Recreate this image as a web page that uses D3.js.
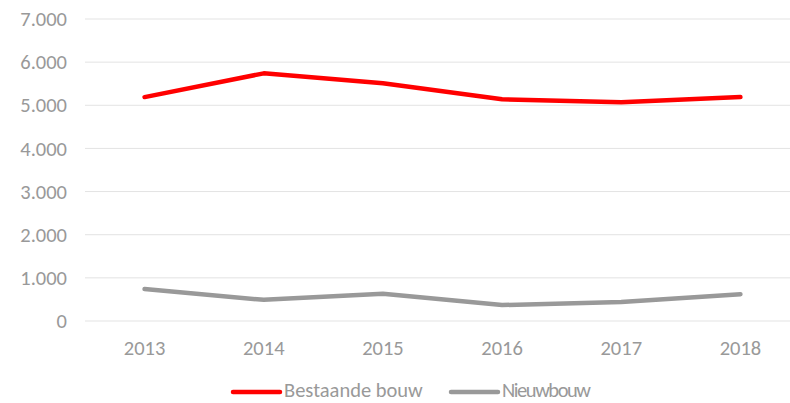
<!DOCTYPE html>
<html>
<head>
<meta charset="utf-8">
<script src="https://cdn.jsdelivr.net/npm/d3@7"></script>
<style>
  body { margin: 0; background: #fff; }
  svg { display: block; font-family: Carlito, Calibri, "Liberation Sans", sans-serif; }
</style>
</head>
<body>
<div id="chart"></div>
<script>
const years = ['2013', '2014', '2015', '2016', '2017', '2018']
const bestaande = [5190, 5740, 5510, 5140, 5070, 5190]
const nieuwbouw = [740, 490, 630, 370, 440, 620]
const yTicks = [0, 1000, 2000, 3000, 4000, 5000, 6000, 7000]

const series = [
  {name: 'Bestaande bouw', values: bestaande, color: '#ff0000'},
  {name: 'Nieuwbouw', values: nieuwbouw, color: '#999999'}
]

const width = 790
const height = 403
const margin = {top: 19, right: -10, bottom: 82, left: 85}
const fontSize = 20.5

const svg = d3.select('#chart')
  .append('svg')
  .attr('width', width)
  .attr('height', height)

const x = d3.scaleBand()
  .domain(years)
  .range([margin.left, width - margin.right])

const y = d3.scaleLinear()
  .domain([0, 7000])
  .range([height - margin.bottom, margin.top])

const fmt = d3.formatLocale({decimal: ',', thousands: '.', grouping: [3], currency: ['€', '']}).format(',')

// gridlines
svg.append('g')
  .selectAll('line')
  .data(yTicks)
  .join('line')
  .attr('x1', margin.left)
  .attr('x2', width - margin.right)
  .attr('y1', d => y(d))
  .attr('y2', d => y(d))
  .attr('stroke', '#e3e3e3')
  .attr('stroke-width', 1)

// y labels
svg.append('g')
  .selectAll('text')
  .data(yTicks)
  .join('text')
  .attr('x', 67)
  .attr('y', d => y(d))
  .attr('dy', '0.35em')
  .attr('text-anchor', 'end')
  .attr('fill', '#999')
  .attr('font-size', fontSize)
  .text(d => fmt(d))

// x labels
svg.append('g')
  .selectAll('text')
  .data(years)
  .join('text')
  .attr('x', d => x(d) + x.bandwidth() / 2)
  .attr('y', 355)
  .attr('text-anchor', 'middle')
  .attr('fill', '#999')
  .attr('font-size', fontSize)
  .text(d => d)

const line = d3.line()
  .x((d, i) => x(years[i]) + x.bandwidth() / 2)
  .y(d => y(d))

svg.append('g')
  .selectAll('path')
  .data(series)
  .join('path')
  .attr('d', d => line(d.values))
  .attr('fill', 'none')
  .attr('stroke', d => d.color)
  .attr('stroke-width', 4.5)
  .attr('stroke-linecap', 'round')
  .attr('stroke-linejoin', 'round')

// legend
const legendX = [233, 451]
const legend = svg.append('g')
  .selectAll('g')
  .data(series)
  .join('g')
  .attr('transform', (d, i) => `translate(${legendX[i]},392)`)

legend.append('line')
  .attr('x1', 0)
  .attr('x2', 47)
  .attr('stroke', d => d.color)
  .attr('stroke-width', 4.5)
  .attr('stroke-linecap', 'round')

legend.append('text')
  .attr('x', 51)
  .attr('y', -2)
  .attr('dy', '0.35em')
  .attr('fill', '#999')
  .attr('font-size', fontSize)
  .attr('textLength', (d, i) => i === 1 ? 89 : null)
  .text(d => d.name)
</script>
</body>
</html>
